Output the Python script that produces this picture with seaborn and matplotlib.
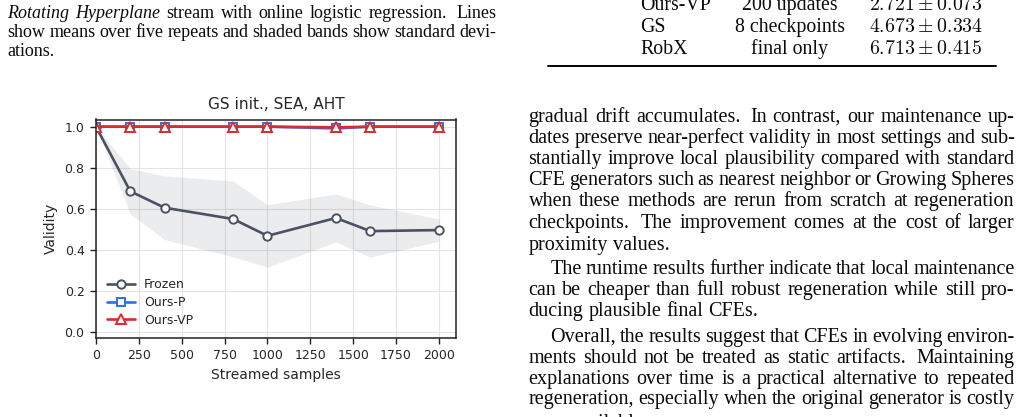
import re
import matplotlib
matplotlib.use("Agg")
import matplotlib.pyplot as plt
import seaborn as sns
from matplotlib.lines import Line2D

W, H = 1022, 417

# validity over the stream (mean and std over five repeats)
samples = [0, 200, 400, 800, 1000, 1400, 1600, 2000]
frozen_mean = [1.0, 0.685, 0.605, 0.55, 0.468, 0.555, 0.491, 0.496]
frozen_std = [0.0, 0.11, 0.155, 0.185, 0.152, 0.117, 0.127, 0.054]
ours_p_mean = [1.0, 1.0, 1.0, 1.0, 1.0, 0.992, 1.0, 1.0]
ours_p_std = [0.0, 0.0, 0.0, 0.0, 0.0, 0.01, 0.0, 0.0]
ours_vp_mean = [1.0, 1.0, 1.0, 1.0, 1.0, 0.997, 1.0, 1.0]
ours_vp_std = [0.0, 0.0, 0.0, 0.0, 0.0, 0.0, 0.0, 0.0]

series_names = ["Frozen", "Ours-P", "Ours-VP"]
series_colors = ["#4a5262", "#2f6fe4", "#dc2b2b"]
series_markers = ["o", "s", "^"]
x_ticks = [0, 250, 500, 750, 1000, 1250, 1500, 1750, 2000]
y_ticks = [0.0, 0.2, 0.4, 0.6, 0.8, 1.0]

# runtime table (bottom part visible)
table_methods = ["Ours-VP", "GS", "RobX"]
table_budget = ["200 updates", "8 checkpoints", "final only"]
table_mean = [2.721, 4.673, 6.713]
table_std = [0.073, 0.334, 0.415]

# page text around the figure: (text, indent, justified)
caption_lines = [
    ("*Rotating* *Hyperplane* stream with online logistic regression.  Lines", 0, True),
    ("show means over five repeats and shaded bands show standard devi-", 0, True),
    ("ations.", 0, False),
]
body_lines = [
    ("gradual drift accumulates.  In contrast, our maintenance up-", 0, True),
    ("dates preserve near-perfect validity in most settings and sub-", 0, True),
    ("stantially improve local plausibility compared with standard", 0, True),
    ("CFE generators such as nearest neighbor or Growing Spheres", 0, True),
    ("when these methods are rerun from scratch at regeneration", 0, True),
    ("checkpoints.  The improvement comes at the cost of larger", 0, True),
    ("proximity values.", 0, False),
    ("The runtime results further indicate that local maintenance", 22, True),
    ("can be cheaper than full robust regeneration while still pro-", 0, True),
    ("ducing plausible final CFEs.", 0, False),
    ("Overall, the results suggest that CFEs in evolving environ-", 22, True),
    ("ments should not be treated as static artifacts.  Maintaining", 0, True),
    ("explanations over time is a practical alternative to repeated", 0, True),
    ("regeneration, especially when the original generator is costly", 0, True),
    ("or unavailable.", 0, False),
]
caption_base = [18, 37, 56]
body_base = [122, 143, 164, 185, 206, 228, 250, 274, 295, 316, 342, 363, 384, 404, 428]

sns.set_style("whitegrid", {"axes.edgecolor": "#222222", "grid.color": "#e3e3e3",
                            "xtick.bottom": True, "ytick.left": True})
plt.rcParams["font.family"] = ["DejaVu Sans"]

fig = plt.figure(figsize=(W / 100, H / 100), dpi=100)
ax = fig.add_axes([96 / W, 1 - 338 / H, 360 / W, 218.5 / H])

means = [frozen_mean, ours_p_mean, ours_vp_mean]
stds = [frozen_std, ours_p_std, ours_vp_std]
for name, col, mk, m, s in zip(series_names, series_colors, series_markers, means, stds):
    lo = [a - b for a, b in zip(m, s)]
    hi = [a + b for a, b in zip(m, s)]
    ax.fill_between(samples, lo, hi, color=col, alpha=0.11, lw=0)
    sns.lineplot(x=samples, y=m, ax=ax, color=col, lw=1.9, marker=mk,
                 markersize=6 if mk != "^" else 6.5, markerfacecolor="white",
                 markeredgecolor=col, markeredgewidth=1.4, label=name)

ax.set_xlim(0, 2100)
ax.set_ylim(-0.03, 1.035)
ax.set_xticks(x_ticks)
ax.set_yticks(y_ticks)
ax.tick_params(labelsize=9, length=4, width=1, color="#222222")
ax.tick_params(axis="x", pad=3.8)
ax.tick_params(axis="y", pad=4.2)
for sp in ax.spines.values():
    sp.set_linewidth(1.1)
ax.set_title("GS init., SEA, AHT", fontsize=11.1, pad=7.5)
ax.set_xlabel("Streamed samples", fontsize=10, labelpad=4.5)
ax.set_ylabel("Validity", fontsize=10, labelpad=4.5)
ax.legend(loc="lower left", frameon=False, fontsize=9, handlelength=2.2,
          handletextpad=0.75, labelspacing=0.38, borderaxespad=0.5)

renderer = fig.canvas.get_renderer()


def place_line(text, x0, x1, y, size, justify):
    parts = re.split(r"( +)", text)
    words, gaps = parts[0::2], parts[1::2]
    arts = []
    for w in words:
        style = "italic" if w.startswith("*") else "normal"
        t = fig.text(0, 0, w.strip("*"), fontsize=size, family="Liberation Serif",
                     style=style, va="baseline", ha="left", color="#0a0a0a")
        arts.append(t)
    widths = [a.get_window_extent(renderer).width for a in arts]
    weights = [1.0 if len(g) == 1 else 1.6 for g in gaps]
    if justify and weights:
        unit = (x1 - x0 - sum(widths)) / sum(weights)
    else:
        unit = size * 0.25 * 100 / 72
    x = x0
    for i, a in enumerate(arts):
        a.set_position((x / W, 1 - y / H))
        if i < len(weights):
            x += widths[i] + unit * weights[i]


for (txt, ind, just), yb in zip(caption_lines, caption_base):
    place_line(txt, 7.3 + ind, 496.5, yb, 13, just)
for (txt, ind, just), yb in zip(body_lines, body_base):
    place_line(txt, 528.5 + ind, 1014.5, yb, 14.5, just)

# table rows
for i, yb in enumerate([10, 32, 54]):
    fig.text(640 / W, 1 - yb / H, table_methods[i], fontsize=14.3,
             family="Liberation Serif", va="baseline", ha="left", color="#0a0a0a")
    fig.text(789.5 / W, 1 - yb / H, table_budget[i], fontsize=14.3,
             family="Liberation Serif", va="baseline", ha="center", color="#0a0a0a")
    fig.text(926 / W, 1 - yb / H, r"$%.3f \pm %.3f$" % (table_mean[i], table_std[i]),
             fontsize=14.3, math_fontfamily="cm", va="baseline", ha="center",
             color="#0a0a0a")
fig.add_artist(Line2D([548 / W, 996 / W], [1 - 66 / H, 1 - 66 / H], color="black",
                      lw=1.4, transform=fig.transFigure))

fig.savefig("out.png", dpi=100)
